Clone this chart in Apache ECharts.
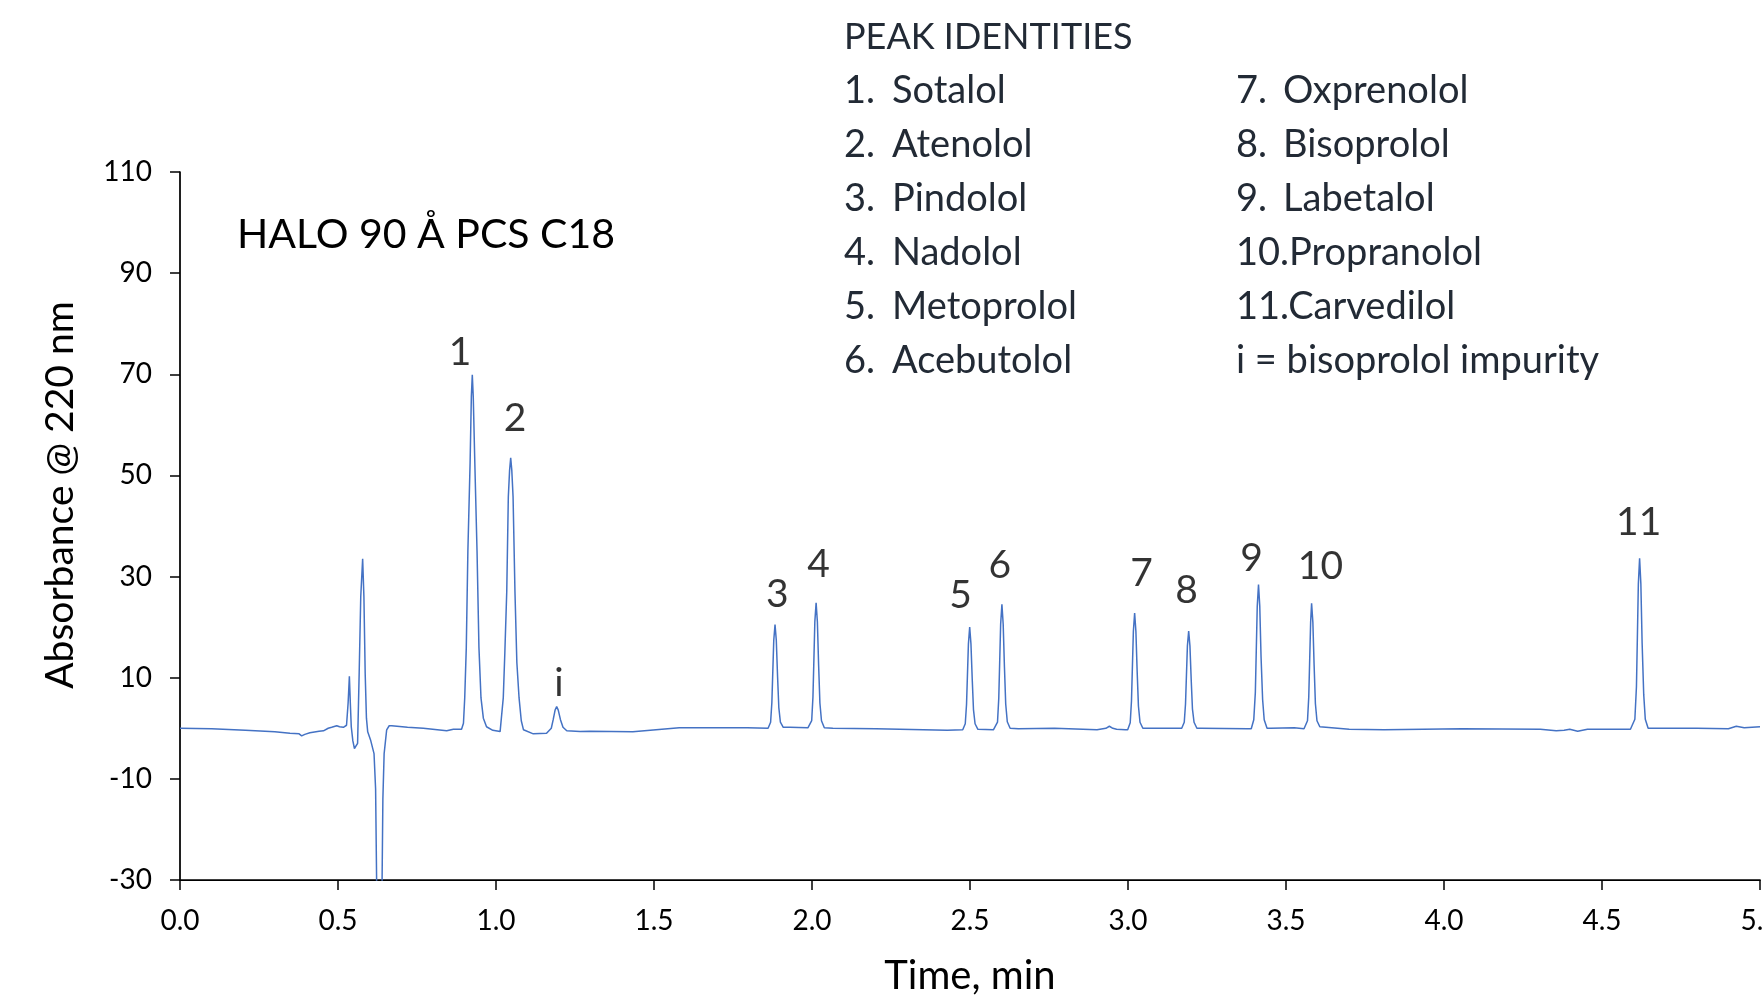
<!DOCTYPE html>
<html><head><meta charset="utf-8">
<script src="https://cdn.jsdelivr.net/npm/echarts@6/dist/echarts.min.js"></script>
<style>html,body{margin:0;padding:0;background:#fff}#chart{width:1763px;height:1000px}</style>
</head><body><div id="chart"></div>
<script>
// Chromatogram trace (time in min, absorbance @ 220 nm)
const time = [
  0.000,0.100,0.207,0.300,0.348,0.377,0.385,0.395,0.411,0.440,0.454,0.469,0.480,0.496,0.505,0.517,0.527,
  0.532,0.536,0.539,0.542,0.547,0.552,0.557,0.562,0.567,0.572,0.578,0.582,0.586,0.590,0.594,0.603,0.614,
  0.619,0.624,0.638,0.642,0.646,0.654,0.662,0.670,0.720,0.770,0.844,0.865,0.891,
  0.897,0.901,0.906,0.911,0.918,0.922,0.925,0.928,0.933,0.940,0.946,0.9525,0.960,0.970,0.990,1.013,
  1.018,1.023,1.028,1.034,1.039,1.043,1.0465,1.050,1.054,1.060,1.066,1.073,1.080,1.087,1.118,1.160,
  1.166,1.175,1.181,1.187,1.192,1.197,1.204,1.212,1.224,1.266,1.297,1.433,1.580,1.795,
  1.861,1.869,1.873,1.876,1.879,1.883,1.887,1.891,1.895,1.900,1.909,1.930,1.987,
  1.991,1.999,2.003,2.006,2.009,2.013,2.017,2.021,2.025,2.030,2.039,2.066,2.202,2.428,
  2.477,2.485,2.489,2.492,2.495,2.499,2.503,2.507,2.511,2.516,2.525,2.574,
  2.579,2.587,2.591,2.594,2.597,2.601,2.605,2.609,2.613,2.618,2.627,2.653,2.767,2.902,2.930,2.941,2.952,2.964,2.992,
  2.999,3.007,3.011,3.014,3.017,3.021,3.025,3.029,3.033,3.038,3.047,3.070,
  3.170,3.178,3.182,3.185,3.188,3.192,3.196,3.200,3.204,3.209,3.218,3.230,3.378,
  3.390,3.398,3.403,3.406,3.409,3.413,3.417,3.421,3.426,3.431,3.440,3.452,3.526,3.557,
  3.561,3.568,3.572,3.575,3.578,3.581,3.585,3.589,3.593,3.598,3.607,3.626,3.700,3.810,4.057,4.305,4.355,4.380,4.398,4.423,4.454,4.590,
  4.596,4.604,4.609,4.612,4.615,4.619,4.623,4.627,4.632,4.637,4.646,4.664,4.800,4.900,4.925,4.950,5.000
];
const absorbance = [
  0.0,-0.1,-0.4,-0.7,-1.0,-1.1,-1.5,-1.2,-0.9,-0.6,-0.5,0.0,0.2,0.5,0.3,0.2,0.6,
  5.0,10.3,5.0,0.3,-2.5,-4.0,-3.8,-3.0,10.9,26.0,33.5,26.0,10.9,2.0,-0.7,-2.3,-5.0,
  -12.0,-40.0,-40.0,-14.0,-5.0,-0.3,0.5,0.5,0.2,0.0,-0.5,-0.2,-0.2,
  1.0,6.0,16.0,35.0,52.4,65.6,69.9,65.6,52.4,35.0,16.0,6.0,2.0,0.3,-0.4,-0.65,
  -0.5,6.0,15.0,27.0,45.8,51.0,53.5,51.0,45.8,27.0,13.0,6.0,1.5,-0.3,-1.1,-1.0,
  -0.9,0.0,1.7,3.6,4.3,3.6,1.7,0.2,-0.5,-0.65,-0.6,-0.7,0.1,0.1,
  0.0,1.2,5.1,11.3,17.4,20.5,17.4,10.3,4.1,1.2,0.2,0.2,0.1,
  0.0,1.5,6.2,13.6,21.1,24.8,21.1,12.4,5.0,1.5,0.1,0.0,-0.1,-0.4,
  -0.3,0.9,4.7,10.7,16.7,20.0,16.7,9.8,3.7,0.9,-0.2,-0.3,
  -0.3,1.2,5.9,13.2,20.6,24.5,20.6,12.1,4.8,1.3,0.0,-0.1,0.0,-0.3,0.0,0.4,0.0,-0.2,-0.3,
  -0.3,1.1,5.4,12.3,19.2,22.8,19.2,11.2,4.4,1.2,0.0,0.0,
  0.0,1.2,4.8,10.6,16.3,19.2,16.3,9.6,3.8,1.2,0.0,0.0,-0.1,
  -0.1,1.7,7.1,15.6,24.1,28.4,24.1,14.2,5.7,1.7,0.0,0.0,0.1,-0.1,
  0.0,1.5,6.2,13.6,21.0,24.7,21.0,12.4,4.9,1.5,0.3,0.2,-0.2,-0.3,-0.1,-0.2,-0.5,-0.4,-0.2,-0.6,-0.2,-0.2,
  -0.2,1.8,8.2,18.2,28.5,33.6,28.5,16.8,6.7,1.8,0.0,0.0,0.0,-0.1,0.4,0.1,0.3
];
// Peak number labels and where they sit (time, absorbance)
const peakLabels = ['1','2','i','3','4','5','6','7','8','9','10','11'];
const peakLabelTime = [0.886,1.060,1.199,1.890,2.021,2.470,2.594,3.043,3.185,3.391,3.609,4.616];
const peakLabelAbs  = [74.4,61.3,8.9,26.4,32.4,26.2,32.2,30.7,27.3,33.6,32.0,40.7];
// Peak identity list
const idNumbersLeft = ['1.','2.','3.','4.','5.','6.'];
const idNamesLeft = ['Sotalol','Atenolol','Pindolol','Nadolol','Metoprolol','Acebutolol'];
const idNumbersRight = ['7.','8.','9.','','',''];
const idNamesRight = ['Oxprenolol','Bisoprolol','Labetalol','10.Propranolol','11.Carvedilol','i = bisoprolol impurity'];
const idHeader = 'PEAK IDENTITIES';
const chartTitle = 'HALO 90 Å PCS C18';
const xName = 'Time, min';
const yName = 'Absorbance @ 220 nm';

const FONT = 'Lato';
const chart = echarts.init(document.getElementById('chart'), null, {renderer: 'canvas'});

const trace = time.map((t, i) => [t, absorbance[i]]);
const labelPts = peakLabels.map((n, i) => ({name: n, value: [peakLabelTime[i], peakLabelAbs[i]]}));

const textCol = '#222a35';
const listFont = `38px ${FONT}`;
const graphics = [];
const rowY0 = 37, rowStep = 54;
graphics.push({type:'text', x:844, y:rowY0, style:{text:idHeader, font:`36px ${FONT}`, fill:textCol, textVerticalAlign:'middle'}});
for (let i = 0; i < 6; i++) {
  const y = rowY0 + rowStep * (i + 1);
  graphics.push({type:'text', x:844, y:y, style:{text:idNumbersLeft[i], font:listFont, fill:textCol, textVerticalAlign:'middle'}});
  graphics.push({type:'text', x:892, y:y, style:{text:idNamesLeft[i], font:listFont, fill:textCol, textVerticalAlign:'middle'}});
  if (idNumbersRight[i]) {
    graphics.push({type:'text', x:1236, y:y, style:{text:idNumbersRight[i], font:listFont, fill:textCol, textVerticalAlign:'middle'}});
    graphics.push({type:'text', x:1283, y:y, style:{text:idNamesRight[i], font:listFont, fill:textCol, textVerticalAlign:'middle'}});
  } else {
    graphics.push({type:'text', x:1236, y:y, style:{text:idNamesRight[i], font:listFont, fill:textCol, textVerticalAlign:'middle'}});
  }
}
graphics.push({type:'text', x:237, y:235, style:{text:chartTitle, font:`41px ${FONT}`, fill:'#000', textVerticalAlign:'middle'}});

chart.setOption({
  animation: false,
  backgroundColor: '#fff',
  grid: {left: 180, right: 3, top: 172, bottom: 120, containLabel: false, outerBoundsMode: 'none'},
  xAxis: {
    type: 'value', min: 0, max: 5, interval: 0.5,
    name: xName, nameLocation: 'middle', nameGap: 76,
    nameTextStyle: {fontFamily: FONT, fontSize: 40, color: '#000'},
    axisLine: {show: true, onZero: false, lineStyle: {color: '#000', width: 1.75}},
    axisTick: {show: true, inside: false, length: 10, lineStyle: {color: '#000', width: 1.5}},
    axisLabel: {fontFamily: FONT, fontSize: 28, color: '#000', margin: 27, formatter: v => v.toFixed(1), hideOverlap: false},
    splitLine: {show: false}
  },
  yAxis: {
    type: 'value', min: -30, max: 110, interval: 20,
    name: yName, nameLocation: 'middle', nameGap: 100, nameRotate: 90,
    nameTextStyle: {fontFamily: FONT, fontSize: 39, color: '#000', padding: [0, 0, 0, 62]},
    axisLine: {show: true, onZero: false, lineStyle: {color: '#000', width: 1.75}},
    axisTick: {show: true, inside: false, length: 10, lineStyle: {color: '#000', width: 1.5}},
    axisLabel: {fontFamily: FONT, fontSize: 28, color: '#000', margin: 28},
    splitLine: {show: false}
  },
  series: [
    {
      type: 'line', name: 'trace', data: trace, showSymbol: false, symbol: 'none',
      smooth: false, clip: true,
      lineStyle: {color: '#4472C4', width: 1.5}, z: 2
    },
    {
      type: 'scatter', name: 'peaks', data: labelPts, symbolSize: 1,
      itemStyle: {color: 'rgba(0,0,0,0)'},
      label: {show: true, position: 'inside', formatter: p => p.name, fontFamily: FONT, fontSize: 39, color: '#000'},
      silent: true, z: 3
    }
  ],
  graphic: graphics
});
</script>
</body></html>
